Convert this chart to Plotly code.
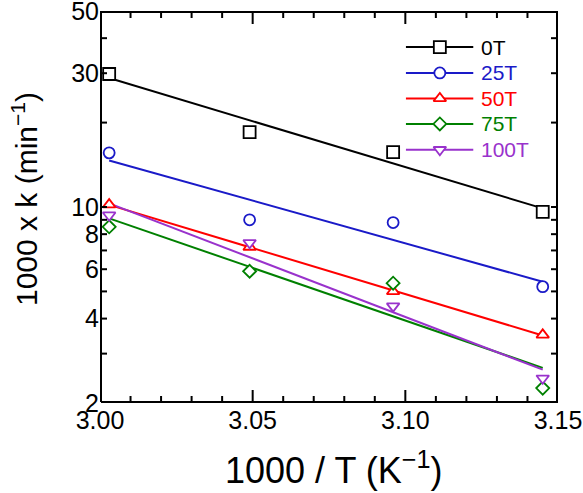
import numpy as np
import plotly.graph_objects as go

# ---- data ----
x_vals = [3.003, 3.049, 3.096, 3.145]          # 1000 / T (K^-1)
series_names = ["0T", "25T", "50T", "75T", "100T"]
k_0T = [29.8, 18.5, 15.7, 9.6]
k_25T = [15.6, 9.0, 8.8, 5.2]
k_50T = [10.2, 7.2, 5.0, 3.5]
k_75T = [8.5, 5.9, 5.35, 2.26]
k_100T = [9.35, 7.45, 4.43, 2.45]
series_values = [k_0T, k_25T, k_50T, k_75T, k_100T]

y_tickvals = [2, 3, 4, 5, 6, 7, 8, 9, 10, 20, 30, 40, 50]
y_ticktext = ["2", "", "4", "", "6", "", "8", "", "10", "", "30", "", "50"]
x_tickvals = [3.00, 3.05, 3.10, 3.15]
x_ticktext = ["3.00", "3.05", "3.10", "3.15"]
x_minor_tickvals = [3.01, 3.02, 3.03, 3.04, 3.06, 3.07, 3.08, 3.09,
                    3.11, 3.12, 3.13, 3.14]

# ---- styles ----
colors = ["#000000", "#1A1AC8", "#FF0000", "#008000", "#9932CC"]
symbols = ["square", "circle", "triangle-up", "diamond", "triangle-down"]
sizes = [12, 11, 11, 10, 11]
FONT = "Arial, Liberation Sans, sans-serif"

W, H = 583, 493
ML, MR, MT, MB = 100, 25, 11, 90
X0, X1 = 3.0, 3.15
LY0, LY1 = np.log10(2), np.log10(50)
DX = (X1 - X0) / (W - ML - MR)        # data units per pixel (x)
DL = (LY1 - LY0) / (H - MT - MB)      # log10 units per pixel (y)
YMIN, YMAX = 10 ** LY0, 10 ** LY1


def fx(f):
    return X0 + f * (X1 - X0)


def fy(f):
    return 10 ** (LY0 + f * (LY1 - LY0))


def up(y, px):
    return y * 10 ** (px * DL)


fig = go.Figure()

# ---- fitted (Arrhenius) lines ----
for name, vals, c in zip(series_names, series_values, colors):
    xs = np.array(x_vals)
    ys = np.array(vals)
    slope, intercept = np.polyfit(xs, np.log(ys), 1)
    fit_y = np.exp(intercept + slope * xs)
    fig.add_trace(go.Scatter(x=[xs[0], xs[-1]], y=[fit_y[0], fit_y[-1]], mode="lines",
                             line=dict(color=c, width=2), showlegend=False, hoverinfo="skip"))

# ---- data points ----
for name, vals, c, s, sz in zip(series_names, series_values, colors, symbols, sizes):
    fig.add_trace(go.Scatter(x=x_vals, y=vals, mode="markers", name=name,
                             marker=dict(symbol=s, size=sz, color="white",
                                         line=dict(color=c, width=1.8)),
                             showlegend=False))

# ---- axis frame and inward ticks (line trace kept just inside the plot area) ----
xa, xb = X0 + 1 * DX, X1 - 1 * DX
ya, yb = up(YMIN, 1), up(YMAX, -1)
fx_pts = [xa, xb, xb, xa, xa, None]
fy_pts = [ya, ya, yb, yb, ya, None]
for v in x_tickvals:
    fx_pts += [v, v, None, v, v, None]
    fy_pts += [ya, up(YMIN, 13), None, yb, up(YMAX, -13), None]
for v in x_minor_tickvals:
    fx_pts += [v, v, None, v, v, None]
    fy_pts += [ya, up(YMIN, 7), None, yb, up(YMAX, -7), None]
for v in y_tickvals:
    fx_pts += [xa, X0 + 7 * DX, None, xb, X1 - 7 * DX, None]
    fy_pts += [v, v, None, v, v, None]
fig.add_trace(go.Scatter(x=fx_pts, y=fy_pts, mode="lines", line=dict(color="black", width=2),
                         showlegend=False, hoverinfo="skip"))

# ---- manual legend (positions as fractions of the plot area) ----
leg_rows = [0.908, 0.842, 0.777, 0.712, 0.646]
lx0, lx1, lxm, ltx = 0.668, 0.815, 0.742, 0.828
annotations = []
for name, c, s, sz, ry in zip(series_names, colors, symbols, sizes, leg_rows):
    fig.add_trace(go.Scatter(x=[fx(lx0), fx(lx1)], y=[fy(ry), fy(ry)], mode="lines",
                             line=dict(color=c, width=2), showlegend=False, hoverinfo="skip"))
    fig.add_trace(go.Scatter(x=[fx(lxm)], y=[fy(ry)], mode="markers",
                             marker=dict(symbol=s, size=sz, color="white",
                                         line=dict(color=c, width=1.8)),
                             showlegend=False, hoverinfo="skip"))
    annotations.append(dict(x=ltx, y=ry, xref="paper", yref="paper", text=name, showarrow=False,
                            xanchor="left", yanchor="middle",
                            font=dict(family=FONT, size=21, color=c)))

annotations.append(dict(x=0.512, y=-0.166, xref="paper", yref="paper",
                        text="1000 / T (K<sup>\u22121</sup>)", showarrow=False,
                        xanchor="center", yanchor="middle",
                        font=dict(family=FONT, size=36, color="black")))
annotations.append(dict(x=-0.164, y=0.52, xref="paper", yref="paper",
                        text="1000 x k (min<sup>\u22121</sup>)", showarrow=False, textangle=-90,
                        xanchor="center", yanchor="middle",
                        font=dict(family=FONT, size=30, color="black")))

fig.update_layout(
    width=W, height=H,
    margin=dict(l=ML, r=MR, t=MT, b=MB, autoexpand=False),
    paper_bgcolor="white", plot_bgcolor="white",
    showlegend=False,
    font=dict(family=FONT, color="black"),
    annotations=annotations,
    xaxis=dict(range=[X0, X1], tickmode="array", tickvals=x_tickvals,
               ticktext=x_ticktext, automargin=False, ticklabeloverflow="allow",
               ticks="", showline=False, showgrid=False, zeroline=False,
               tickfont=dict(size=25, family=FONT)),
    yaxis=dict(type="log", range=[LY0, LY1], tickmode="array",
               tickvals=y_tickvals, ticktext=y_ticktext, automargin=False,
               ticklabeloverflow="allow",
               ticks="", showline=False, showgrid=False, zeroline=False,
               tickfont=dict(size=25, family=FONT)),
)

post_js = (
    "document.body.style.margin='0';"
    "document.body.style.overflow='hidden';"
)

fig.write_html("out.html", post_script=post_js, config={"displayModeBar": False})
